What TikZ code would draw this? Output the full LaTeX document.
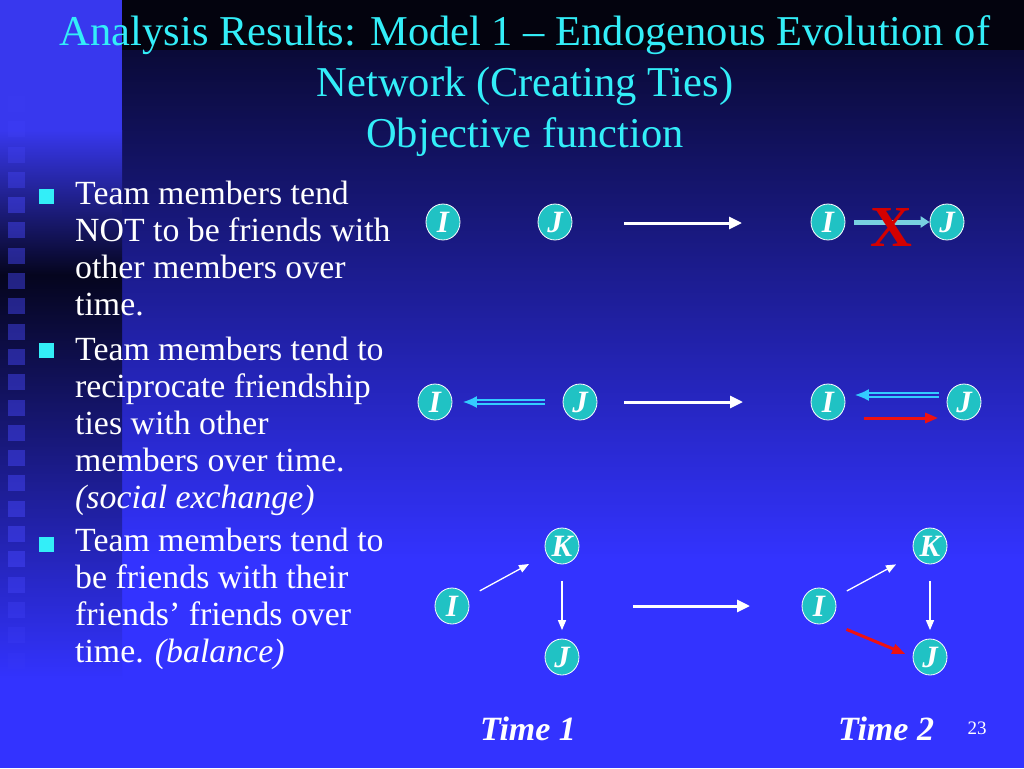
\documentclass[tikz,border=0pt]{standalone}
\usepackage{fontspec}
\setmainfont{Liberation Serif}
\usetikzlibrary{arrows.meta,shapes.geometric}
\definecolor{deep}{HTML}{03030E}
\definecolor{night}{HTML}{0A0A38}
\definecolor{royal}{HTML}{3333FF}
\definecolor{strip}{HTML}{3838EE}
\definecolor{shadow}{HTML}{05051E}
\definecolor{tile}{HTML}{4848FF}
\definecolor{aqua}{HTML}{33EEF8}
\definecolor{teal}{HTML}{20C2C4}
\definecolor{tiecyan}{HTML}{33CCFF}
\definecolor{pale}{HTML}{78D0E0}
\definecolor{rowbg}{HTML}{2626C0}
\definecolor{alarm}{HTML}{EE1111}
\definecolor{cross}{HTML}{D40000}

\begin{document}
\begin{tikzpicture}[x=1pt,y=-1pt,every node/.style={text=white,inner sep=0pt},
agent/.style={ellipse,draw=white,line width=.8pt,fill=teal,minimum width=34pt,minimum height=36pt,font=\fontsize{31}{31}\selectfont\bfseries\itshape},
item/.style={anchor=base west,align=left,font=\fontsize{33.8}{36.8}\selectfont},
bullet/.style={rectangle,fill=aqua,minimum size=15pt},
stamp/.style={anchor=base,font=\fontsize{34}{34}\selectfont\bfseries\itshape},
pass/.style={draw=white,line width=3pt,-{Triangle[length=13pt,width=12pt]}},
link/.style={draw=white,line width=1.3pt,-{Triangle[length=10pt,width=8pt]}},
recip/.style={draw=tiecyan,line width=1.6pt,double=rowbg,double distance=2pt,-{Latex[length=14pt,width=12pt]}},
block/.style={draw=pale,line width=5pt,-{Triangle[length=9pt,width=11pt]}},
newtie/.style={draw=alarm,line width=3pt,-{Triangle[length=13pt,width=10pt]}}]
\useasboundingbox (0,0) rectangle (1024,768);
% background
\fill[royal] (0,0) rectangle (1024,768);
\shade[top color=night,bottom color=royal] (122,50) rectangle (1024,560);
\fill[deep] (122,0) rectangle (1024,50);
\fill[strip] (0,0) rectangle (122,130);
\shade[top color=strip,bottom color=shadow] (0,130) rectangle (122,275);
\shade[top color=shadow,bottom color=royal] (0,275) rectangle (122,680);
\foreach \k in {0,...,22}{
  \pgfmathsetmacro\op{0.45*min(1,min(\k+1,23-\k)/5)}
  \fill[tile,opacity=\op] (8,95.9+25.3*\k) rectangle ++(17,16);
}
% title (base = last line)
\node[text=aqua,anchor=base,align=center,font=\fontsize{42.5}{51}\selectfont] (head) at (525,147)
  {Analysis Results: Model 1 -- Endogenous Evolution of\\Network (Creating Ties)\\Objective function};
% bullets
\node[bullet] (b1) at (46,196) {};
\node[bullet] (b2) at (46,350) {};
\node[bullet] (b3) at (46,544) {};
\node[item] (t1) at (75,315) {Team members tend\\NOT to be friends with\\other members over\\time.};
\node[item] (t2) at (75,508) {Team members tend to\\reciprocate friendship\\ties with other\\members over time.\\\textit{(social exchange)}};
\node[item] (t3) at (75,662) {Team members tend to\\be friends with their\\friends’ friends over\\time. \textit{(balance)}};
% row 1
\node[agent] (i1a) at (443,222) {I};
\node[agent] (j1a) at (555,222) {J};
\node[agent] (i1b) at (828,222) {I};
\node[agent] (j1b) at (947,222) {J};
\coordinate (go1a) at (624,223); \coordinate (go1b) at (742,223);
\draw[pass] (go1a)--(go1b);
\draw[block,shorten <=8.5pt] (i1b)--(j1b);
\node[text=cross,font=\fontsize{58}{58}\selectfont\bfseries] (no) at (891,228) {X};
% row 2
\node[agent] (i2a) at (435,402) {I};
\node[agent] (j2a) at (580,402) {J};
\node[agent] (i2b) at (828,402) {I};
\node[agent] (j2b) at (964,402) {J};
\coordinate (go2a) at (624,402); \coordinate (go2b) at (743,402);
\draw[pass] (go2a)--(go2b);
\draw[recip,shorten <=17.5pt,shorten >=10.5pt] (j2a)--(i2a);
\draw[recip,shorten <=7.5pt,shorten >=9.5pt] ([yshift=7pt]j2b.west)--([yshift=7pt]i2b.east);
\draw[newtie,shorten <=18.5pt,shorten >=8.5pt] ([yshift=-16pt]i2b.east)--([yshift=-16pt]j2b.west);
% row 3
\node[agent] (k3a) at (562,546) {K};
\node[agent] (i3a) at (452,606) {I};
\node[agent] (j3a) at (562,657) {J};
\node[agent] (k3b) at (930,546) {K};
\node[agent] (i3b) at (819,606) {I};
\node[agent] (j3b) at (930,657) {J};
\coordinate (go3a) at (633,606); \coordinate (go3b) at (750,606);
\draw[pass] (go3a)--(go3b);
\draw[link,shorten <=14pt,shorten >=20pt] (i3a)--(k3a);\draw[link,shorten <=16.5pt,shorten >=8.5pt] (k3a)--(j3a);
\draw[link,shorten <=14pt,shorten >=21pt] (i3b)--(k3b);\draw[link,shorten <=16.5pt,shorten >=8.5pt] (k3b)--(j3b);
\draw[newtie,shorten <=20pt,shorten >=8pt] (i3b.-60)--(j3b.west);
% footer
\node[stamp] (tm1) at (528,740) {Time 1};
\node[stamp] (tm2) at (886,740) {Time 2};
\node[anchor=base,font=\fontsize{19}{19}\selectfont] (pg) at (977,734) {23};
\end{tikzpicture}
\end{document}
